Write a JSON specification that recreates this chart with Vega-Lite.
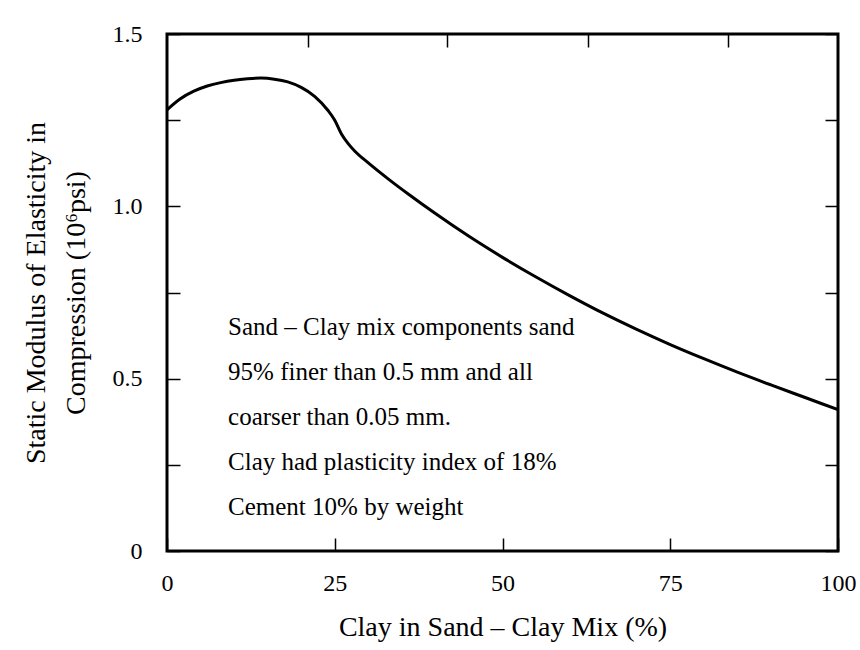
{
  "$schema": "https://vega.github.io/schema/vega-lite/v6.json",
  "width": 671,
  "height": 517,
  "autosize": {"type": "none"},
  "padding": {"left": 167, "top": 34, "right": 22, "bottom": 99},
  "background": "white",
  "config": {
    "view": {"stroke": "black", "strokeWidth": 3},
    "font": "Liberation Serif",
    "axis": {
      "grid": false,
      "domain": false,
      "tickColor": "black",
      "tickWidth": 1.5,
      "labelColor": "black",
      "titleColor": "black",
      "labelFont": "Liberation Serif",
      "titleFont": "Liberation Serif",
      "labelFontSize": 24,
      "titleFontSize": 28,
      "titleFontWeight": "normal"
    }
  },
  "layer": [
    {
      "data": {
        "values": [
          {"clay": 0, "modulus": 1.28},
          {"clay": 2, "modulus": 1.312},
          {"clay": 4, "modulus": 1.334},
          {"clay": 6, "modulus": 1.349},
          {"clay": 8, "modulus": 1.359},
          {"clay": 10, "modulus": 1.366},
          {"clay": 12, "modulus": 1.37},
          {"clay": 14, "modulus": 1.372},
          {"clay": 16, "modulus": 1.369},
          {"clay": 18, "modulus": 1.361},
          {"clay": 20, "modulus": 1.345},
          {"clay": 22, "modulus": 1.319},
          {"clay": 24, "modulus": 1.278},
          {"clay": 25, "modulus": 1.25},
          {"clay": 26, "modulus": 1.21},
          {"clay": 27, "modulus": 1.182},
          {"clay": 28, "modulus": 1.16},
          {"clay": 30, "modulus": 1.126},
          {"clay": 33, "modulus": 1.079},
          {"clay": 36, "modulus": 1.035},
          {"clay": 40, "modulus": 0.979},
          {"clay": 45, "modulus": 0.913},
          {"clay": 50, "modulus": 0.852},
          {"clay": 55, "modulus": 0.795},
          {"clay": 60, "modulus": 0.741},
          {"clay": 65, "modulus": 0.69},
          {"clay": 70, "modulus": 0.643},
          {"clay": 75, "modulus": 0.599},
          {"clay": 80, "modulus": 0.558},
          {"clay": 85, "modulus": 0.519},
          {"clay": 90, "modulus": 0.482},
          {"clay": 95, "modulus": 0.446},
          {"clay": 100, "modulus": 0.41}
        ]
      },
      "mark": {"type": "line", "color": "black", "strokeWidth": 3, "interpolate": "monotone", "clip": true},
      "encoding": {
        "x": {
          "field": "clay",
          "type": "quantitative",
          "scale": {"domain": [0, 100], "nice": false, "zero": false},
          "axis": {
            "orient": "bottom",
            "values": [0, 25, 50, 75, 100],
            "tickSize": -13,
            "labelPadding": 45,
            "labelFlush": false,
            "labelBaseline": "middle",
            "title": "Clay in Sand – Clay Mix (%)",
            "titlePadding": 18
          }
        },
        "y": {
          "field": "modulus",
          "type": "quantitative",
          "scale": {"domain": [0, 1.5], "nice": false, "zero": true},
          "axis": {
            "orient": "left",
            "values": [0, 0.25, 0.5, 0.75, 1, 1.25, 1.5],
            "tickSize": -13,
            "labelPadding": 38,
            "labelFlush": false,
            "labelExpr": "datum.value == 0 ? '0' : (datum.value % 0.5 == 0 ? format(datum.value, '.1f') : '')",
            "title": ["Static Modulus of Elasticity in", "Compression (10⁶psi)"],
            "titleLineHeight": 40,
            "titlePadding": 22
          }
        }
      }
    },
    {
      "data": {
        "values": [
          {"note": ["Sand – Clay mix components sand", "95% finer than 0.5 mm and all", "coarser than 0.05 mm.", "Clay had plasticity index of 18%", "Cement 10% by weight"]}
        ]
      },
      "mark": {"type": "text", "align": "left", "baseline": "middle", "font": "Liberation Serif", "fontSize": 25, "lineHeight": 45, "color": "black"},
      "encoding": {
        "x": {
          "datum": 9.1,
          "type": "quantitative",
          "scale": {"domain": [0, 100], "nice": false, "zero": false},
          "axis": {"orient": "top", "values": [21, 41.8, 62.7, 83.6], "tickSize": -13, "labels": false, "title": null}
        },
        "y": {
          "datum": 0.65,
          "type": "quantitative",
          "axis": {"orient": "right", "values": [0, 0.25, 0.5, 0.75, 1, 1.25, 1.5], "tickSize": -13, "labels": false, "title": null}
        },
        "text": {"field": "note"}
      }
    }
  ]
}
